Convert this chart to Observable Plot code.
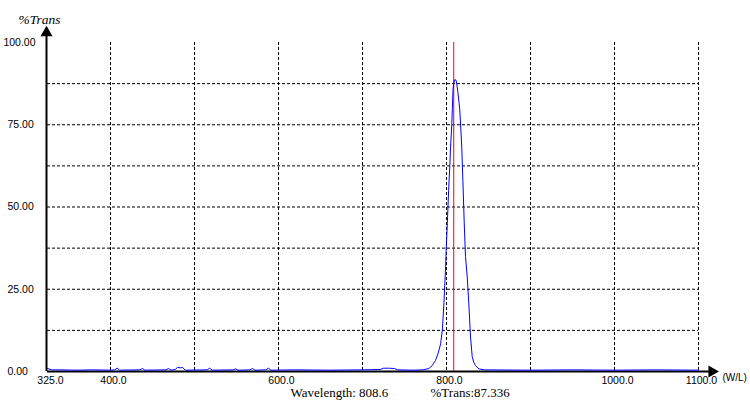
<!DOCTYPE html>
<html>
<head>
<meta charset="utf-8">
<script src="https://cdn.jsdelivr.net/npm/d3@7"></script>
<script src="https://cdn.jsdelivr.net/npm/@observablehq/plot@0.6"></script>
<style>
  html, body { margin: 0; padding: 0; background: #fff; }
  svg { display: block; }
</style>
</head>
<body>
<div id="chart"></div>
<script>
// ---- data ----
const wavelengths = [
  325, 330, 340, 360, 380, 400, 405, 408, 411, 435, 438, 441, 466, 469, 472, 477, 480, 483, 486, 489,
  515, 518, 521, 546, 549, 552, 566, 569, 572, 585, 588, 591, 620, 660, 700, 721, 725, 732, 738, 742,
  760, 772, 779, 783, 787, 790, 793, 795, 796, 797, 798, 799, 799.6, 801, 802.5, 804, 804.8, 806.3, 807,
  807.8, 808.6, 809.5, 811, 811.9, 813.5, 814.6, 815.8, 817, 818.2, 819.5, 821, 822.6, 824.6, 826.6,
  828.6, 830.6, 832.5, 834.5, 838.5, 845, 900, 950, 1000, 1050, 1100
];
const transmittance = [
  0.9, 0.5, 0.5, 0.4, 0.5, 0.4, 0.5, 1.0, 0.4, 0.5, 0.9, 0.4, 0.5, 0.9, 0.4, 0.6, 1.3, 1.1, 1.2, 0.4,
  0.5, 1.0, 0.4, 0.5, 0.8, 0.4, 0.5, 0.9, 0.4, 0.5, 1.0, 0.4, 0.5, 0.4, 0.5, 0.6, 1.0, 1.0, 0.9, 0.5,
  0.4, 0.5, 0.9, 1.8, 3.4, 5.5, 8.4, 12.5, 16.6, 21, 26.7, 32, 36.9, 45, 55, 63, 68, 75, 80,
  86, 87.336, 88.6, 88.7, 88, 85, 82.5, 79.5, 74, 68, 58, 46, 35, 29, 20.5,
  10.5, 4.5, 2.8, 1.8, 0.8, 0.5, 0.4, 0.5, 0.4, 0.5, 0.4
];
const xDomain = [325, 1100];
const yDomain = [0, 100];
const xTickValues = [325, 400, 600, 800, 1000, 1100];
const yTickValues = [0, 25, 50, 75];
const yTopTick = [100];
const xGridValues = [400, 500, 600, 700, 800, 900, 1000, 1100];
const yGridValues = [12.5, 25, 37.5, 50, 62.5, 75, 87.5];
const cursorWavelength = 808.6;
const cursorTrans = 87.336;
const yAxisEnd = 103;      // axis arrow extent (data units)
const xAxisEnd = 1116;

const data = wavelengths.map((w, i) => ({w, t: transmittance[i]}));

const chart = Plot.plot({
  width: 750,
  height: 410,
  marginLeft: 47,
  marginRight: 52,
  marginTop: 42,
  marginBottom: 39,
  style: {fontFamily: "'Liberation Sans', Arial, sans-serif", fontSize: "10.5px", background: "#fff", color: "#000", overflow: "visible"},
  x: {domain: xDomain},
  y: {domain: yDomain},
  marks: [
    Plot.gridX(xGridValues, {stroke: "#000", strokeOpacity: 1, strokeDasharray: "3,2"}),
    Plot.gridY(yGridValues, {stroke: "#000", strokeOpacity: 1, strokeDasharray: "3,2"}),
    // axes lines with arrows
    Plot.ruleX([xDomain[0]], {y1: 0, y2: yAxisEnd, stroke: "#000", strokeWidth: 2, dx: -1}),
    Plot.ruleY([0], {x1: xDomain[0], x2: xAxisEnd, stroke: "#000", strokeWidth: 2}),
    Plot.dot([{x: xDomain[0], y: yAxisEnd}], {x: "x", y: "y", symbol: "triangle", r: 4.5, fill: "#000", stroke: "none", dx: -1}),
    Plot.dot([{x: xAxisEnd, y: 0}], {x: "x", y: "y", symbol: "triangle", rotate: 90, r: 4.5, fill: "#000", stroke: "none"}),
    // cursor
    Plot.ruleX([cursorWavelength], {y1: 0, y2: 100, stroke: "#ff0000", strokeWidth: 1}),
    // spectrum
    Plot.line(data, {x: "w", y: "t", stroke: "#0000ff", strokeWidth: 1}),
    // axes labels
    Plot.axisX(xTickValues, {tickSize: 0, tickPadding: 5, tickFormat: d3.format(".1f"), dx: 3, label: null}),
    Plot.axisY(yTickValues, {tickSize: 0, tickPadding: 40, textAnchor: "start", tickFormat: d3.format(".2f"), label: null}),
    Plot.axisY(yTopTick, {tickSize: 0, tickPadding: 12, tickFormat: d3.format(".2f"), label: null}),
    // annotations
    Plot.text(["%Trans"], {frameAnchor: "top-left", textAnchor: "start", dx: -29, dy: -28,
      fontFamily: "'Liberation Serif', 'Times New Roman', serif", fontStyle: "italic", fontSize: 13.5}),
    Plot.text(["(W/L)"], {frameAnchor: "bottom-right", textAnchor: "start", dx: 24, dy: 9, fontSize: 10}),
    Plot.text([`Wavelength: ${cursorWavelength.toFixed(1)}`], {frameAnchor: "bottom-left", textAnchor: "start", dx: 243, dy: 25,
      fontFamily: "'Liberation Serif', 'Times New Roman', serif", fontSize: 13}),
    Plot.text([`%Trans:${cursorTrans.toFixed(3)}`], {frameAnchor: "bottom-left", textAnchor: "start", dx: 383, dy: 25,
      fontFamily: "'Liberation Serif', 'Times New Roman', serif", fontSize: 13})
  ]
});
document.getElementById("chart").appendChild(chart);
</script>
</body>
</html>
